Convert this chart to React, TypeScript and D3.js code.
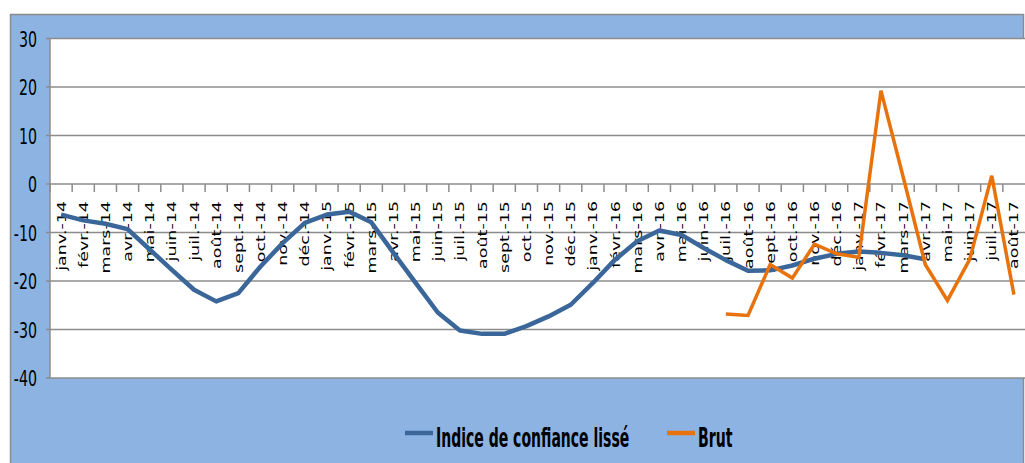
import React from "react";
import * as d3 from "d3";

const categories = [
  "janv.-14","févr.-14","mars-14","avr.-14","mai-14","juin-14","juil.-14","août-14","sept.-14","oct.-14","nov.-14","déc.-14",
  "janv.-15","févr.-15","mars-15","avr.-15","mai-15","juin-15","juil.-15","août-15","sept.-15","oct.-15","nov.-15","déc.-15",
  "janv.-16","févr.-16","mars-16","avr.-16","mai-16","juin-16","juil.-16","août-16","sept.-16","oct.-16","nov.-16","déc.-16",
  "janv.-17","févr.-17","mars-17","avr.-17","mai-17","juin-17","juil.-17","août-17",
];

const lisse: (number | null)[] = [
  -6.3, -7.5, -8.2, -9.3, -13.5, -17.7, -21.8, -24.2, -22.5, -17.0, -12.2, -8.0,
  -6.3, -5.7, -7.9, -14.2, -20.4, -26.5, -30.2, -30.9, -30.9, -29.3, -27.3, -24.9,
  -20.4, -15.6, -11.8, -9.6, -10.5, -13.2, -15.7, -17.9, -17.8, -16.8, -15.4, -14.4,
  -13.9, -14.2, -14.7, -15.5, null, null, null, null,
];

const brut: (number | null)[] = [
  null, null, null, null, null, null, null, null, null, null, null, null,
  null, null, null, null, null, null, null, null, null, null, null, null,
  null, null, null, null, null, null, -26.8, -27.1, -16.6, -19.4, -12.4, -14.4,
  -15.1, 19.25, 1.5, -16.6, -24.0, -15.6, 1.7, -22.8,
];

const yTicks = [30, 20, 10, 0, -10, -20, -30, -40];
const seriesNames = ["Indice de confiance lissé", "Brut"];
const seriesColors = ["#3A6699", "#E8720C"];

const W = 1025;
const H = 463;

export default function App() {
  const x = d3.scaleBand<string>().domain(categories).range([50, 1025]).padding(0);
  const y = d3.scaleLinear().domain([-40, 30]).range([378, 38.5]);

  const line = d3
    .line<number | null>()
    .defined((d) => d !== null)
    .x((_, i) => (x(categories[i]) as number) + x.bandwidth() / 2)
    .y((d) => y(d as number));

  const gridColor = "#8C8C8C";
  const narrow = "'Liberation Sans Narrow', 'DejaVu Sans Condensed', 'Arial Narrow', sans-serif";

  return (
    <svg
      width={W}
      height={H}
      style={{ position: "fixed", left: 0, top: 0, display: "block", background: "#fff" }}
    >
      <rect x={10.5} y={14.5} width={1013} height={460} fill="#8DB3E2" stroke="#8C8C8C" strokeWidth={1.5} />
      <rect x={50} y={y(30)} width={975} height={y(-40) - y(30)} fill="#fff" />
      {yTicks.map((t) => (
        <line key={"g" + t} x1={46} x2={1025} y1={y(t)} y2={y(t)} stroke={gridColor} strokeWidth={1.5} />
      ))}
      <line x1={50} x2={50} y1={y(30)} y2={y(-40)} stroke={gridColor} strokeWidth={1.5} />
      {yTicks.map((t) => (
        <text
          key={"yl" + t}
          transform={`translate(37,${y(t) + 8}) scale(0.77,1)`}
          textAnchor="end"
          fontFamily={narrow}
          fontSize={20.5}
          fill="#000"
        >
          {t}
        </text>
      ))}
      {categories.map((c) => (
        <line
          key={"xt" + c}
          x1={x(c) as number}
          x2={x(c) as number}
          y1={y(0)}
          y2={y(0) + 8}
          stroke={gridColor}
          strokeWidth={1.5}
        />
      ))}
      {categories.map((c) => (
        <text
          key={"xl" + c}
          transform={`translate(${(x(c) as number) + x.bandwidth() / 2},201) rotate(-90) scale(1.4,1)`}
          textAnchor="end"
          dy="0.36em"
          fontFamily="'DejaVu Sans', Verdana, sans-serif"
          fontSize={12.5}
          fill="#000"
        >
          {c}
        </text>
      ))}
      <path d={line(lisse) || ""} fill="none" stroke={seriesColors[0]} strokeWidth={4.5} strokeLinejoin="round" />
      <path d={line(brut) || ""} fill="none" stroke={seriesColors[1]} strokeWidth={3.5} strokeLinejoin="miter" />
      <line x1={405} x2={433} y1={433} y2={433} stroke={seriesColors[0]} strokeWidth={4.5} />
      <text
        transform="translate(436,447) scale(0.577,1)"
        fontFamily={narrow}
        fontWeight="bold"
        fontSize={27}
        fill="#000"
      >
        {seriesNames[0]}
      </text>
      <line x1={667} x2={695} y1={433} y2={433} stroke={seriesColors[1]} strokeWidth={4.5} />
      <text
        transform="translate(698,447) scale(0.58,1)"
        fontFamily={narrow}
        fontWeight="bold"
        fontSize={27}
        fill="#000"
      >
        {seriesNames[1]}
      </text>
    </svg>
  );
}
